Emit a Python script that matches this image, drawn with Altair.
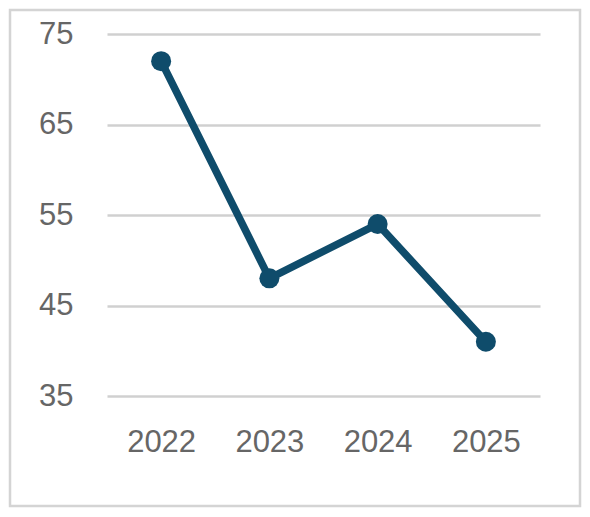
import altair as alt
import pandas as pd

years = ["2022", "2023", "2024", "2025"]
values = [72, 48, 54, 41]
y_ticks = [35, 45, 55, 65, 75]

df = pd.DataFrame({"year": years, "value": values})

W, H = 433, 362
LINE = "#0f4c6b"
TXT = "#666666"
FONT = "Liberation Sans"

base = alt.Chart(df)

line = base.mark_line(color=LINE, strokeWidth=7.5, strokeCap="round", strokeJoin="round").encode(
    x=alt.X("year:O", sort=years,
            scale=alt.Scale(type="point", padding=0.5),
            axis=alt.Axis(title=None, labelAngle=0, domain=False, ticks=False, grid=False,
                          labelFontSize=31, labelColor=TXT, labelFont=FONT, labelPadding=31)),
    y=alt.Y("value:Q",
            scale=alt.Scale(domain=[35, 75], nice=False, zero=False),
            axis=alt.Axis(title=None, values=y_ticks, domain=False, ticks=False,
                          gridColor="#d0d0d0", gridWidth=2.5,
                          labelFontSize=31, labelColor=TXT, labelFont=FONT, labelPadding=34)),
)

pts = base.mark_circle(color=LINE, size=400, opacity=1).encode(
    x=alt.X("year:O", sort=years),
    y=alt.Y("value:Q"),
)

border = alt.Chart(pd.DataFrame({"a": [0]})).mark_rect(
    filled=False, stroke="#d4d4d4", strokeWidth=2.5
).encode(
    x=alt.value(-97), x2=alt.value(W + 40),
    y=alt.value(-24), y2=alt.value(H + 110),
)

chart = alt.layer(border, line, pts).properties(
    width=W, height=H,
    background="white",
    padding={"left": 99, "top": 26, "right": 42, "bottom": 113},
    autosize=alt.AutoSizeParams(type="none"),
).configure_view(strokeWidth=0)

chart.save("out.html", embed_options={"renderer": "svg", "actions": False})
